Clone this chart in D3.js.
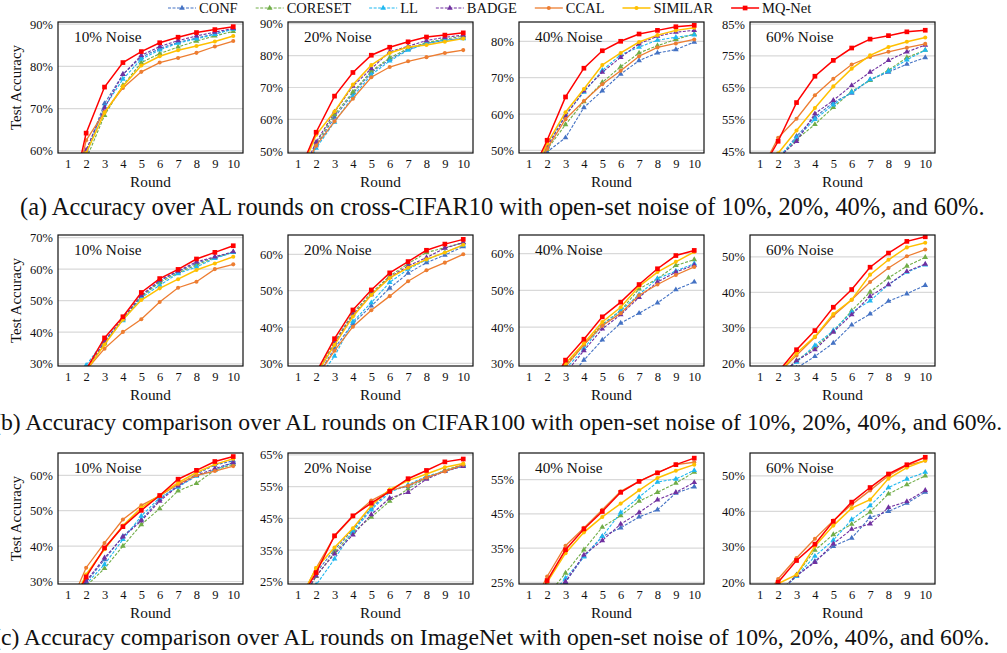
<!DOCTYPE html>
<html>
<head>
<meta charset="utf-8">
<script src="https://cdn.jsdelivr.net/npm/d3@7"></script>
<style>
  body { margin: 0; background: #fff; }
  text { font-family: "Liberation Serif", "Times New Roman", serif; fill: #111; }
</style>
</head>
<body>
<svg id="chart" width="1007" height="653"></svg>
<script>
// ---- data ----
const rounds = [1, 2, 3, 4, 5, 6, 7, 8, 9, 10];
const methods = ["CONF", "CORESET", "LL", "BADGE", "CCAL", "SIMILAR", "MQ-Net"];
const noiseTitles = ["10% Noise", "20% Noise", "40% Noise", "60% Noise"];
const captions = [
  "(a) Accuracy over AL rounds on cross-CIFAR10 with open-set noise of 10%, 20%, 40%, and 60%.",
  "(b) Accuracy comparison over AL rounds on CIFAR100 with open-set noise of 10%, 20%, 40%, and 60%.",
  "(c) Accuracy comparison over AL rounds on ImageNet with open-set noise of 10%, 20%, 40%, and 60%."
];

// each row: CONF, CORESET, LL, BADGE, CCAL, SIMILAR, MQ-Net
const cifar10_n10 = [
  [44, 59.8, 71.2, 78.1, 82.2, 84.2, 85.7, 86.7, 87.7, 88.9],
  [43, 58.0, 68.4, 75.5, 80.9, 83.0, 84.6, 86.0, 87.2, 88.3],
  [43.5, 59.2, 70.4, 77.0, 81.7, 83.9, 85.5, 86.5, 87.6, 88.8],
  [44, 60.2, 70.2, 78.1, 82.6, 84.7, 86.1, 87.2, 88.1, 89.0],
  [43, 62.5, 69.2, 74.9, 78.7, 80.9, 82.0, 83.2, 84.7, 86.0],
  [43, 59.5, 69.0, 75.3, 80.2, 82.4, 83.8, 84.8, 85.9, 87.2],
  [44.6, 64.2, 75.1, 80.9, 83.5, 85.6, 86.9, 88.0, 88.7, 89.4]
];
const cifar10_n20 = [
  [40, 51.8, 60.7, 68.1, 74.7, 78.8, 81.9, 83.8, 84.8, 85.5],
  [40, 52.4, 61.5, 68.6, 75.1, 79.3, 82.2, 84.1, 85.1, 86.1],
  [39, 51.0, 59.2, 67.2, 74.0, 78.3, 81.7, 83.8, 84.8, 85.3],
  [40.5, 52.9, 62.3, 70.4, 75.9, 81.2, 82.9, 84.7, 85.7, 86.4],
  [40, 51.8, 59.4, 66.5, 73.2, 76.4, 78.2, 79.5, 80.8, 81.7],
  [41, 55.2, 62.5, 70.9, 77.0, 80.8, 82.7, 83.3, 84.3, 85.3],
  [42.5, 56.0, 67.3, 74.7, 80.1, 82.6, 84.3, 85.8, 86.4, 87.1]
];
const cifar10_n40 = [
  [38, 49.6, 53.5, 61.8, 66.4, 71.0, 74.7, 76.8, 77.7, 79.8],
  [40, 50.3, 57.1, 63.4, 68.7, 73.0, 76.8, 78.8, 80.5, 82.0],
  [40, 51.2, 59.9, 66.0, 72.0, 76.3, 78.4, 80.3, 81.1, 81.8],
  [40, 51.0, 59.5, 66.4, 71.5, 75.6, 79.3, 81.4, 82.5, 83.0],
  [40, 50.5, 58.6, 63.6, 68.2, 71.9, 75.9, 78.3, 79.4, 80.5],
  [41, 51.9, 60.5, 66.9, 73.5, 76.8, 79.8, 81.7, 83.0, 83.7],
  [42, 52.8, 64.7, 72.6, 77.4, 80.0, 82.0, 83.0, 84.0, 84.4]
];
const cifar10_n60 = [
  [36, 42.5, 49.7, 55.7, 60.3, 63.3, 67.5, 69.9, 72.4, 74.5],
  [36, 42.5, 48.7, 53.4, 58.8, 63.8, 67.3, 70.5, 74.5, 76.8],
  [36, 42.8, 49.1, 55.0, 59.6, 63.6, 67.5, 70.2, 73.8, 76.8],
  [36, 42.8, 48.1, 56.8, 61.0, 65.7, 69.9, 73.6, 76.3, 78.4],
  [38, 49.2, 55.2, 62.6, 67.8, 72.3, 74.7, 76.3, 77.6, 78.8],
  [37, 44.3, 51.5, 58.6, 65.4, 71.0, 75.2, 77.8, 79.5, 80.8],
  [38, 48.1, 60.3, 68.6, 73.6, 77.5, 80.3, 81.4, 82.6, 83.1]
];
const cifar100_n10 = [
  [18, 28.0, 36.7, 44.3, 51.4, 56.2, 59.2, 61.8, 63.8, 65.3],
  [18, 27.8, 36.4, 44.0, 51.2, 55.8, 58.8, 61.3, 63.6, 65.3],
  [20, 29.5, 37.5, 43.7, 50.9, 54.9, 58.6, 60.7, 63.4, 65.3],
  [18, 28.0, 37.1, 44.5, 51.7, 56.5, 59.4, 62.3, 63.9, 65.5],
  [18, 28.0, 34.8, 40.1, 44.1, 49.6, 54.1, 56.0, 60.0, 61.5],
  [18, 27.8, 36.1, 44.0, 50.2, 53.9, 56.8, 59.7, 61.8, 63.9],
  [18, 28.2, 38.2, 44.9, 52.6, 57.0, 59.9, 63.2, 65.3, 67.4]
];
const cifar100_n20 = [
  [16, 26.0, 34.2, 41.0, 45.8, 50.7, 54.8, 57.7, 59.8, 62.1],
  [16, 27.0, 36.0, 43.9, 49.4, 54.0, 57.4, 60.5, 61.8, 63.2],
  [15, 25.0, 32.0, 41.5, 46.7, 52.3, 55.9, 58.5, 60.5, 62.5],
  [16, 26.5, 35.6, 43.4, 48.9, 53.7, 56.8, 59.1, 61.7, 63.2],
  [16, 26.0, 33.5, 40.1, 44.6, 48.5, 52.6, 55.6, 57.7, 60.0],
  [16, 27.0, 35.1, 42.9, 48.8, 53.5, 56.3, 58.6, 60.5, 62.6],
  [17, 27.5, 36.8, 44.7, 50.2, 54.9, 58.0, 61.1, 62.8, 64.1]
];
const cifar100_n40 = [
  [14, 19, 25.0, 31.0, 36.5, 41.1, 43.8, 46.6, 50.2, 52.3],
  [15, 21, 29.7, 35.2, 40.8, 44.5, 50.4, 53.2, 56.8, 58.4],
  [15, 21, 28.5, 34.2, 40.5, 44.5, 48.9, 53.2, 55.3, 57.3],
  [14, 20, 27.5, 33.6, 39.5, 43.4, 48.1, 52.3, 55.0, 56.9],
  [15, 21, 29.2, 35.2, 40.4, 43.8, 48.7, 51.6, 54.2, 56.4],
  [15, 21.5, 30.1, 35.6, 41.4, 45.4, 51.1, 55.0, 57.8, 60.5],
  [15, 22, 31.0, 36.7, 42.8, 46.8, 51.6, 55.9, 59.5, 60.9]
];
const cifar100_n60 = [
  [8, 13, 18.6, 21.9, 25.7, 30.8, 33.9, 37.5, 39.6, 42.0],
  [10, 16, 20.7, 24.4, 29.0, 34.8, 40.1, 44.1, 47.4, 49.9],
  [10, 16, 20.3, 25.0, 29.2, 34.4, 37.6, 42.2, 45.7, 47.8],
  [10, 16, 20.7, 23.8, 28.8, 33.7, 38.9, 42.2, 45.9, 48.0],
  [10, 17, 22.2, 27.3, 33.4, 37.9, 42.9, 46.9, 50.2, 52.1],
  [10, 17, 22.8, 27.5, 33.9, 37.9, 45.0, 49.2, 52.7, 54.0],
  [11, 17.5, 23.8, 29.2, 35.8, 40.8, 47.1, 51.1, 54.4, 55.7]
];
const imagenet_n10 = [
  [20, 29.8, 36.2, 42.8, 47.5, 53.2, 57.2, 60.3, 62.9, 64.1],
  [19, 28.7, 33.7, 40.0, 46.1, 50.6, 55.6, 57.7, 61.5, 63.1],
  [19, 29.3, 34.8, 41.9, 48.5, 53.7, 56.7, 59.8, 61.5, 63.6],
  [20, 30.1, 36.7, 42.6, 47.1, 52.7, 57.0, 60.0, 61.9, 63.6],
  [22, 33.9, 40.9, 47.5, 51.5, 54.2, 57.5, 60.0, 61.2, 62.6],
  [21, 32.0, 39.1, 45.8, 50.8, 54.3, 57.9, 60.8, 63.1, 64.7],
  [21, 31.3, 39.5, 45.5, 50.1, 54.3, 58.9, 61.4, 63.9, 65.3]
];
const imagenet_n20 = [
  [17, 27.9, 35.1, 41.4, 48.3, 53.7, 55.1, 57.7, 60.0, 61.6],
  [17, 26.7, 34.3, 40.6, 45.4, 50.4, 54.3, 57.7, 60.2, 62.0],
  [15, 24.0, 32.2, 40.9, 47.7, 53.2, 55.6, 58.3, 59.8, 61.6],
  [17, 26.9, 33.8, 39.8, 46.2, 51.4, 53.2, 57.4, 59.8, 61.4],
  [18, 29.3, 39.3, 45.6, 50.6, 53.7, 55.3, 57.9, 59.8, 61.9],
  [18, 29.3, 35.8, 41.9, 49.0, 54.1, 56.9, 59.0, 61.1, 62.3],
  [18.2, 27.9, 39.5, 45.8, 49.8, 53.5, 57.5, 60.1, 62.8, 63.7]
];
const imagenet_n40 = [
  [13, 20, 25.0, 32.6, 38.4, 40.9, 44.1, 46.2, 51.1, 52.9],
  [14, 21, 27.7, 34.5, 41.1, 44.5, 48.7, 51.3, 54.0, 57.2],
  [13, 20, 26.2, 32.4, 38.4, 45.4, 49.9, 54.3, 55.2, 57.7],
  [13, 20, 25.2, 33.0, 37.2, 42.0, 45.4, 49.1, 51.3, 54.2],
  [16, 26.7, 35.7, 40.9, 46.2, 51.6, 54.5, 57.1, 59.4, 60.1],
  [15, 25.0, 33.5, 39.6, 44.1, 48.0, 51.9, 55.5, 57.6, 59.4],
  [15, 25.5, 34.5, 40.6, 45.7, 51.3, 54.5, 57.0, 59.4, 61.3]
];
const imagenet_n60 = [
  [12, 17, 21.8, 26.0, 30.2, 32.5, 38.3, 40.0, 42.3, 45.4],
  [12, 17, 22.2, 29.1, 33.5, 36.4, 39.8, 44.9, 47.5, 50.0],
  [12, 17, 21.8, 27.4, 31.9, 37.7, 41.6, 46.7, 49.1, 51.0],
  [12, 17, 22.0, 25.7, 30.9, 35.0, 36.5, 41.1, 42.8, 45.9],
  [13, 21.0, 26.9, 32.3, 37.4, 41.9, 45.9, 50.0, 52.9, 54.2],
  [12, 19.7, 22.2, 30.2, 36.0, 40.9, 43.3, 49.2, 52.3, 54.3],
  [13, 20.1, 26.2, 30.8, 37.2, 42.6, 46.7, 50.5, 53.1, 55.2]
];

// y tick values and axis limits of each panel
const yTicks = [
  [60, 70, 80, 90], [50, 60, 70, 80, 90], [50, 60, 70, 80], [45, 55, 65, 75, 85],
  [30, 40, 50, 60, 70], [30, 40, 50, 60], [30, 40, 50, 60], [20, 30, 40, 50],
  [30, 40, 50, 60], [25, 35, 45, 55, 65], [25, 35, 45, 55], [20, 30, 40, 50]
];
const yLimits = [
  [59.5, 90.5], [49.5, 90.5], [49.3, 85.3], [44.4, 85.7],
  [29.3, 70.8], [29.3, 65.3], [29.4, 65.1], [19.2, 56.2],
  [29.3, 66.3], [24.3, 65.6], [24.5, 62.8], [19.6, 56.4]
];
const panelData = [
  cifar10_n10, cifar10_n20, cifar10_n40, cifar10_n60,
  cifar100_n10, cifar100_n20, cifar100_n40, cifar100_n60,
  imagenet_n10, imagenet_n20, imagenet_n40, imagenet_n60
];

// ---- styles ----
const style = {
  "CONF":    { color: "#4472C4", dash: "3,1.5", sym: d3.symbolTriangle, size: 14, w: 1.1 },
  "CORESET": { color: "#70AD47", dash: "3,1.5", sym: d3.symbolTriangle, size: 14, w: 1.1 },
  "LL":      { color: "#1FB8F0", dash: "3,1.5", sym: d3.symbolTriangle, size: 14, w: 1.1 },
  "BADGE":   { color: "#7030A0", dash: "3,1.5", sym: d3.symbolTriangle, size: 14, w: 1.1 },
  "CCAL":    { color: "#ED7D31", dash: null,    sym: d3.symbolCircle,   size: 13, w: 1.3 },
  "SIMILAR": { color: "#FFC000", dash: null,    sym: d3.symbolCircle,   size: 13, w: 1.5 },
  "MQ-Net":  { color: "#FF0000", dash: null,    sym: d3.symbolSquare,   size: 22, w: 1.5 }
};

const svg = d3.select("#chart");
svg.append("rect").attr("width", 1007).attr("height", 653).attr("fill", "#fff");

const colLeft = [58, 288, 519, 750];
const rowTop = [22, 235, 453];
const pw = 185, ph = 131;

panelData.forEach((vals, i) => {
  const row = Math.floor(i / 4), col = i % 4;
  const g = svg.append("g").attr("transform", `translate(${colLeft[col]},${rowTop[row]})`);

  const x = d3.scaleLinear().domain([0.47, 10.53]).range([0, pw]);
  const y = d3.scaleLinear().domain(yLimits[i]).range([ph, 0]);

  const clipId = "clip" + i;
  g.append("clipPath").attr("id", clipId)
    .append("rect").attr("width", pw).attr("height", ph);

  // grid
  g.selectAll(".grid").data(yTicks[i]).enter().append("line")
    .attr("x1", 0).attr("x2", pw)
    .attr("y1", d => y(d)).attr("y2", d => y(d))
    .attr("stroke", "#d9d9d9").attr("stroke-width", 1.2);

  // axes (labels only)
  const yAxis = g.append("g").call(d3.axisLeft(y).tickValues(yTicks[i]).tickSize(0).tickPadding(5).tickFormat(d => d + "%"));
  yAxis.select(".domain").remove();
  yAxis.selectAll("text").attr("font-size", 12.5).attr("font-family", "Liberation Serif");

  const xAxis = g.append("g").attr("transform", `translate(0,${ph})`)
    .call(d3.axisBottom(x).tickValues(rounds).tickSize(0).tickPadding(6).tickFormat(d3.format("d")));
  xAxis.select(".domain").remove();
  xAxis.selectAll("text").attr("font-size", 12.5).attr("font-family", "Liberation Serif");

  const plot = g.append("g").attr("clip-path", `url(#${clipId})`);
  const line = d3.line().x((d, k) => x(rounds[k])).y(d => y(d));

  methods.forEach((m, j) => {
    const s = style[m];
    plot.append("path").datum(vals[j])
      .attr("d", line)
      .attr("fill", "none")
      .attr("stroke", s.color)
      .attr("stroke-width", s.w)
      .attr("stroke-dasharray", s.dash);
    plot.selectAll(".pt" + j).data(vals[j]).enter().append("path")
      .attr("d", d3.symbol().type(s.sym).size(s.size))
      .attr("transform", (d, k) => `translate(${x(rounds[k])},${y(d)})`)
      .attr("fill", s.color);
  });

  // frame
  g.append("rect").attr("width", pw).attr("height", ph)
    .attr("fill", "none").attr("stroke", "#111").attr("stroke-width", 1.2);

  g.append("text").attr("x", 16).attr("y", 19.5)
    .attr("font-size", 15.3).text(noiseTitles[col]);

  g.append("text").attr("x", pw / 2).attr("y", ph + 34)
    .attr("text-anchor", "middle").attr("font-size", 15.3).text("Round");

  if (col === 0) {
    g.append("text")
      .attr("transform", `translate(${16 - colLeft[0]},${ph / 2}) rotate(-90)`)
      .attr("text-anchor", "middle").attr("dominant-baseline", "central")
      .attr("font-size", 15).text("Test Accuracy");
  }
});

// captions: each sized to span the same extent as in the figure
const capY = [215, 430, 645];
const capX = [20, -7, -7];
const capEnd = [985, 1003, 990];
captions.forEach((c, i) => {
  const t = svg.append("text").attr("x", capX[i]).attr("y", capY[i])
    .attr("font-size", 20).text(c);
  const size = 20 * (capEnd[i] - capX[i]) / t.node().getComputedTextLength();
  t.attr("font-size", size);
});

// legend
const leg = svg.append("g").attr("transform", "translate(168,8)");
let lx = 0;
methods.forEach(m => {
  const s = style[m];
  const it = leg.append("g").attr("transform", `translate(${lx},0)`);
  it.append("line").attr("x1", 0).attr("x2", 28).attr("y1", 0).attr("y2", 0)
    .attr("stroke", s.color).attr("stroke-width", s.w).attr("stroke-dasharray", s.dash);
  it.append("path").attr("d", d3.symbol().type(s.sym).size(s.size))
    .attr("transform", "translate(14,0)").attr("fill", s.color);
  const t = it.append("text").attr("x", 31).attr("y", 5).attr("font-size", 14.5).text(m);
  lx += 31 + t.node().getComputedTextLength() + 18;
});
</script>
</body>
</html>
